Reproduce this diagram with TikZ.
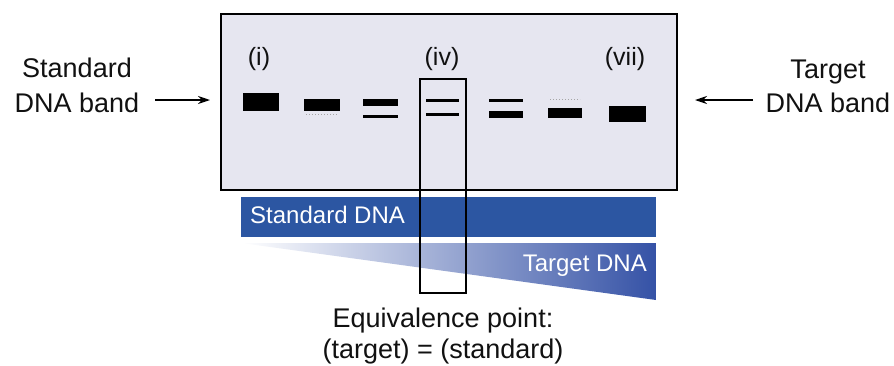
\documentclass[tikz,border=0pt]{standalone}
\usepackage{fontspec}
\setmainfont{Liberation Sans}
\usetikzlibrary{arrows.meta}
\definecolor{gel}{HTML}{E6E6F0}
\definecolor{dnablue}{HTML}{2C56A2}
\definecolor{wedgeblue}{HTML}{3552A6}
\definecolor{ink}{HTML}{111111}
\begin{document}
\begin{tikzpicture}[x=1pt,y=-1pt,
  lbl/.style={font=\fontsize{27}{30}\selectfont, inner sep=0pt, anchor=base, text=ink},
  lane/.style={font=\fontsize{25}{28}\selectfont, inner sep=0pt, anchor=base, text=ink},
  bartext/.style={font=\fontsize{24}{28}\selectfont, inner sep=0pt, text=white},
  band/.style={fill=black},
  thinband/.style={draw=black, line width=2.2pt},
  faint/.style={draw=gray!70, line width=1pt, dotted},
  pointer/.style={line width=1.3pt, -{Stealth[length=12pt,width=8pt]}}]
\useasboundingbox (0,0) rectangle (894,365);
% gel
\draw[fill=gel, line width=1.8pt] (221,14) rectangle (677,190);
% bars
\fill[dnablue] (241,197) rectangle (656,237);
\shade[left color=white, right color=wedgeblue] (241,243) -- (656,243) -- (656,300) -- cycle;
\node[bartext, anchor=base west] (stdtxt) at (250,223) {Standard DNA};
\node[bartext, anchor=base east] (tgttxt) at (647,271) {Target DNA};
% lane labels
\node[lane] (l1) at (259,65) {(i)};
\node[lane] (l4) at (442,65) {(iv)};
\node[lane] (l7) at (625,65) {(vii)};
% bands
\fill[band] (243,93) rectangle (279,111);
\fill[band] (304,99) rectangle (340,111);
\draw[faint] (306,114) -- (338,114);
\fill[band] (363,99) rectangle (398,106);
\fill[band] (363,115) rectangle (398,118);
\fill[band] (426,99) rectangle (459,102);
\fill[band] (426,113) rectangle (459,116);
\fill[band] (489,99) rectangle (523,102);
\fill[band] (489,111) rectangle (523,118);
\draw[faint] (550,99) -- (580,99);
\fill[band] (548,108) rectangle (582,118);
\fill[band] (609,106) rectangle (646,122);
% equivalence column
\draw[line width=1.5pt] (420,79) rectangle (466,293);
% side labels
\node[lbl] (sl1) at (77,77) {Standard};
\node[lbl] (sl2) at (77,112) {DNA band};
\node[lbl] (tl1) at (828,78) {Target};
\node[lbl] (tl2) at (828,112) {DNA band};
\coordinate (sa) at (155,100);
\coordinate (sb) at (210,100);
\coordinate (ta) at (753,100);
\coordinate (tb) at (695,100);
\draw[pointer] (sa) -- (sb);
\draw[pointer] (ta) -- (tb);
% equivalence text
\node[lbl] (eq1) at (443,327) {Equivalence point:};
\node[lbl] (eq2) at (443,358) {(target) = (standard)};
\end{tikzpicture}
\end{document}
